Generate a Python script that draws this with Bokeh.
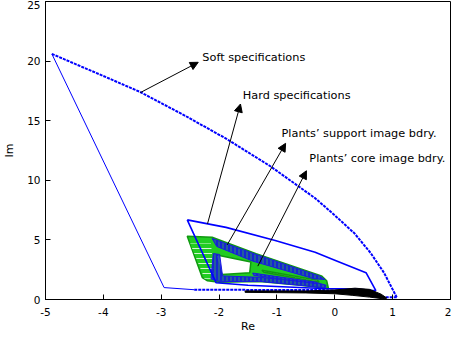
from bokeh.plotting import figure
from bokeh.models import Arrow, NormalHead, ColumnDataSource, Range1d
from bokeh.core.properties import value
from bokeh.embed import file_html
from bokeh.resources import INLINE

# ---------------- data ----------------
x_ticks = [-5, -4, -3, -2, -1, 0, 1, 2]
y_ticks = [0, 5, 10, 15, 20, 25]

# soft specifications (closed region: dotted arc + base + side)
soft_arc_x = [-4.89, -4.0, -3.36, -2.6, -1.88, -1.12, -0.34, 0.0, 0.34, 0.62, 0.85, 1.07]
soft_arc_y = [20.6, 18.75, 17.4, 15.45, 13.5, 11.2, 8.5, 7.06, 5.55, 3.9, 2.25, 0.19]
soft_base_x = [1.07, 0.75, 0.4, -0.2, -1.0, -2.43]
soft_base_y = [0.19, 0.2, 0.55, 0.8, 0.8, 0.82]
soft_side_x = [-2.43, -2.95, -4.89]
soft_side_y = [0.82, 1.0, 20.6]

# hard specifications
hard_x = [-2.55, -1.88, -1.03, -0.34, 0.0, 0.54, 0.71, 0.39, -0.22, -1.5, -2.05, -2.55]
hard_y = [6.68, 6.05, 4.95, 3.96, 3.3, 2.25, 0.74, 0.87, 0.92, 1.2, 1.4, 6.68]

# plants' support image (green templates region)
sup_outer_x = [-2.55, -2.12, -1.36, -0.23, -0.14, -0.11, -0.6, -1.3, -2.0, -2.2, -2.29]
sup_outer_y = [5.30, 5.22, 3.85, 1.98, 1.57, 0.92, 1.2, 1.5, 1.45, 1.57, 1.84]
sup_hole_x = [-2.06, -1.45, -1.47, -1.95]
sup_hole_y = [3.76, 3.15, 2.25, 2.1]
sup_stripe_x = [-1.26, -0.3, -0.27, -1.22]
sup_stripe_y = [2.45, 1.62, 1.45, 2.28]
left_band_x = [-2.5, -2.14, -2.08, -2.25]
left_band_y = [4.7, 4.7, 1.75, 1.75]

# plants' core image (blue templates bands)
core_a_x = [-2.12, -1.36, -0.26, -0.17, -0.36, -1.42, -2.04]
core_a_y = [5.12, 3.78, 1.96, 1.68, 1.74, 3.22, 4.45]
core_b_x = [-2.1, -1.99, -1.94, -1.3, -0.32, -0.15, -0.16, -0.36, -1.3, -1.98, -2.14]
core_b_y = [3.85, 3.78, 1.98, 1.86, 1.42, 1.2, 0.98, 1.08, 1.52, 1.5, 1.72]
core_c_x = [-1.42, -0.32, -0.3, -1.4]
core_c_y = [2.22, 1.45, 1.32, 2.02]

# nominal image (black)
black_x = [-1.55, -0.5, 0.0, 0.35, 0.6, 0.8, 0.9, 0.85, 0.6, 0.3, 0.0, -0.5, -1.55]
black_y = [0.72, 0.72, 0.8, 0.95, 0.85, 0.45, 0.12, 0.05, 0.2, 0.35, 0.48, 0.55, 0.6]

# annotations
label_text = ["Soft specifications", "Hard specifications",
              "Plants\u2019 support image bdry.", "Plants\u2019 core image bdry."]
label_x = [-2.29, -1.59, -0.92, -0.44]
label_y = [20.3, 17.1, 13.93, 11.87]
arrow_x0 = [-3.36, -2.2, -1.86, -1.33]
arrow_y0 = [17.36, 6.35, 4.58, 2.8]
arrow_x1 = [-2.36, -1.63, -0.85, -0.49]
arrow_y1 = [19.9, 16.4, 13.1, 10.8]

# ---------------- figure ----------------
p = figure(width=451, height=335, output_backend="svg", toolbar_location=None,
           x_range=Range1d(-5, 2), y_range=Range1d(0, 25),
           min_border_left=37, min_border_right=1, min_border_top=1, min_border_bottom=36)
p.grid.visible = False
p.outline_line_color = "black"
p.outline_line_width = 1
p.outline_line_alpha = 1
p.background_fill_color = "white"
p.border_fill_color = "white"

for ax in (p.xaxis, p.yaxis):
    ax.major_tick_in = 5
    ax.major_tick_out = 0
    ax.minor_tick_line_color = None
    ax.axis_line_color = "black"
    ax.major_tick_line_color = "black"
    ax.major_label_text_font = "DejaVu Sans"
    ax.major_label_text_font_size = "10.5px"
    ax.major_label_text_color = "black"
    ax.axis_label_text_font = "DejaVu Sans"
    ax.axis_label_text_font_size = "11px"
    ax.axis_label_text_font_style = "normal"
    ax.axis_label_text_color = "black"
p.xaxis.ticker = x_ticks
p.yaxis.ticker = y_ticks
p.xaxis.major_label_overrides = {t: str(t) for t in x_ticks}
p.yaxis.major_label_overrides = {t: str(t) for t in y_ticks}
p.xaxis.axis_label = "Re"
p.yaxis.axis_label = "Im"
p.xaxis.major_label_standoff = 8
p.xaxis.axis_label_standoff = 1
p.yaxis.major_label_standoff = 5
p.yaxis.axis_label_standoff = 8

blue = "#0000ff"
green = "#22cc22"

# soft specs
p.line(soft_arc_x, soft_arc_y, line_color=blue, line_width=2, line_dash="3 1")
p.line(soft_base_x, soft_base_y, line_color=blue, line_width=2, line_dash="3 1")
p.line(soft_side_x, soft_side_y, line_color=blue, line_width=1)

# support image (green)
p.multi_polygons(xs=[[[sup_outer_x, sup_hole_x, sup_stripe_x]]],
                 ys=[[[sup_outer_y, sup_hole_y, sup_stripe_y]]],
                 fill_color=green, line_color="#119911", line_width=1.5)
p.patch(left_band_x, left_band_y, fill_color=green, fill_alpha=1, line_alpha=0,
        hatch_pattern="horizontal_line", hatch_color="white", hatch_scale=5,
        hatch_weight=1, hatch_alpha=0.8)

# core image (blue bands with fine vertical strokes)
p.patches([core_a_x, core_b_x, core_c_x], [core_a_y, core_b_y, core_c_y],
          fill_color="#1414e6", fill_alpha=0.9, line_color="#1a1ae0", line_width=1,
          hatch_pattern="vertical_line", hatch_color="#3cc03c", hatch_scale=4,
          hatch_weight=1, hatch_alpha=0.7)

# hard specs
p.line(hard_x, hard_y, line_color=blue, line_width=1.6)

# black nominal
p.patch(black_x, black_y, fill_color="black", line_color="black", line_width=1)

# labels
p.text(x=label_x, y=label_y, text=label_text, text_align="left", text_baseline="middle",
       text_font=value("DejaVu Sans"), text_font_size="11.3px", text_color="black")

src = ColumnDataSource(dict(x0=arrow_x0, y0=arrow_y0, x1=arrow_x1, y1=arrow_y1))
p.add_layout(Arrow(source=src, x_start="x0", y_start="y0", x_end="x1", y_end="y1",
                   line_color="black", line_width=1,
                   end=NormalHead(size=8, fill_color="black", line_color="black")))

open("out.html", "w").write(file_html(p, INLINE))
